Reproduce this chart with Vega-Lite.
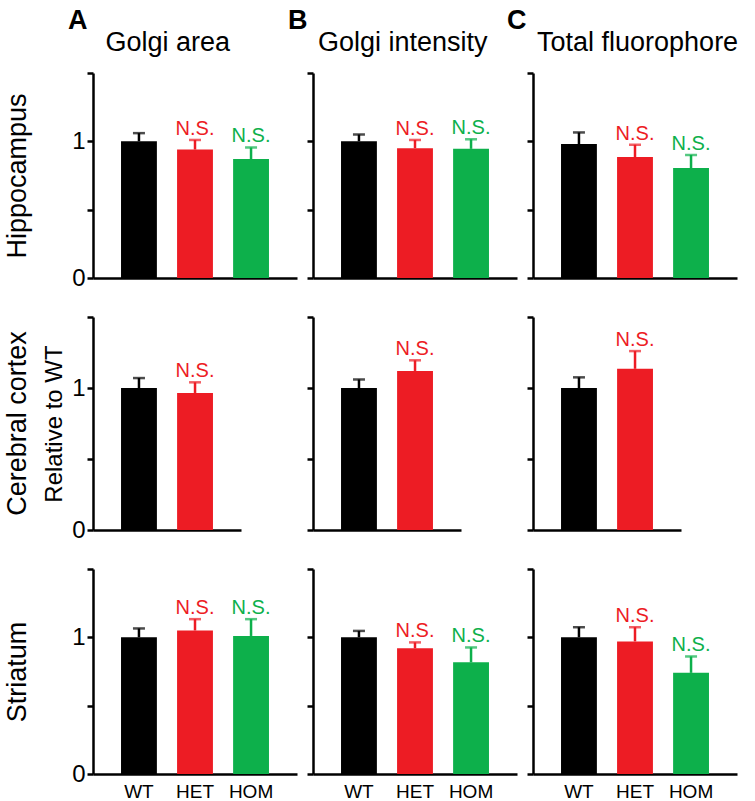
{
 "$schema": "https://vega.github.io/schema/vega-lite/v6.json",
 "padding": {"left": 3, "top": 6, "right": 0, "bottom": 0},
 "background": "white",
 "data": {"values": [
  {"region": "Hippocampus", "measure": "Golgi area", "group": "WT", "value": 1.0, "hi": 1.06, "label": ""},
  {"region": "Hippocampus", "measure": "Golgi area", "group": "HET", "value": 0.94, "hi": 1.01, "label": "N.S."},
  {"region": "Hippocampus", "measure": "Golgi area", "group": "HOM", "value": 0.87, "hi": 0.955, "label": "N.S."},
  {"region": "Hippocampus", "measure": "Golgi intensity", "group": "WT", "value": 1.0, "hi": 1.05, "label": ""},
  {"region": "Hippocampus", "measure": "Golgi intensity", "group": "HET", "value": 0.95, "hi": 1.01, "label": "N.S."},
  {"region": "Hippocampus", "measure": "Golgi intensity", "group": "HOM", "value": 0.945, "hi": 1.015, "label": "N.S."},
  {"region": "Hippocampus", "measure": "Total fluorophore", "group": "WT", "value": 0.98, "hi": 1.065, "label": ""},
  {"region": "Hippocampus", "measure": "Total fluorophore", "group": "HET", "value": 0.885, "hi": 0.975, "label": "N.S."},
  {"region": "Hippocampus", "measure": "Total fluorophore", "group": "HOM", "value": 0.805, "hi": 0.9, "label": "N.S."},
  {"region": "Cerebral cortex", "measure": "Golgi area", "group": "WT", "value": 1.0, "hi": 1.07, "label": ""},
  {"region": "Cerebral cortex", "measure": "Golgi area", "group": "HET", "value": 0.965, "hi": 1.04, "label": "N.S."},
  {"region": "Cerebral cortex", "measure": "Golgi intensity", "group": "WT", "value": 1.0, "hi": 1.06, "label": ""},
  {"region": "Cerebral cortex", "measure": "Golgi intensity", "group": "HET", "value": 1.12, "hi": 1.195, "label": "N.S."},
  {"region": "Cerebral cortex", "measure": "Total fluorophore", "group": "WT", "value": 1.0, "hi": 1.075, "label": ""},
  {"region": "Cerebral cortex", "measure": "Total fluorophore", "group": "HET", "value": 1.135, "hi": 1.26, "label": "N.S."},
  {"region": "Striatum", "measure": "Golgi area", "group": "WT", "value": 1.0, "hi": 1.065, "label": ""},
  {"region": "Striatum", "measure": "Golgi area", "group": "HET", "value": 1.05, "hi": 1.133, "label": "N.S."},
  {"region": "Striatum", "measure": "Golgi area", "group": "HOM", "value": 1.01, "hi": 1.133, "label": "N.S."},
  {"region": "Striatum", "measure": "Golgi intensity", "group": "WT", "value": 1.0, "hi": 1.047, "label": ""},
  {"region": "Striatum", "measure": "Golgi intensity", "group": "HET", "value": 0.92, "hi": 0.963, "label": "N.S."},
  {"region": "Striatum", "measure": "Golgi intensity", "group": "HOM", "value": 0.817, "hi": 0.926, "label": "N.S."},
  {"region": "Striatum", "measure": "Total fluorophore", "group": "WT", "value": 1.0, "hi": 1.074, "label": ""},
  {"region": "Striatum", "measure": "Total fluorophore", "group": "HET", "value": 0.97, "hi": 1.074, "label": "N.S."},
  {"region": "Striatum", "measure": "Total fluorophore", "group": "HOM", "value": 0.74, "hi": 0.86, "label": "N.S."}
 ]},
 "config": {
  "view": {"stroke": null},
  "font": "Liberation Sans",
  "scale": {"bandPaddingInner": 0.36, "bandPaddingOuter": 0.5},
  "axis": {"grid": false, "domainColor": "#000000", "domainWidth": 2.5, "tickColor": "#000000", "tickWidth": 2.5, "labelColor": "#000000", "labelFont": "Liberation Sans", "titleFont": "Liberation Sans", "titleColor": "#000000", "titleFontWeight": "normal"},
  "axisX": {"ticks": false, "labelFontSize": 19, "labelPadding": 8, "labelAngle": 0},
  "axisY": {"tickSize": 6, "labelFontSize": 24, "labelPadding": 2, "titleFontSize": 27},
  "title": {"font": "Liberation Sans", "color": "#000000", "subtitleFont": "Liberation Sans", "subtitleColor": "#000000"}
 },
 "bounds": "flush",
 "columns": 3,
 "spacing": {"row": 39, "column": 16},
 "concat": [
  {
   "width": 204, "height": 205,
   "title": {"text": "A", "subtitle": "\u200b\u00a0\u00a0\u00a0\u00a0\u00a0Golgi area", "anchor": "start", "frame": "group", "dx": -25, "fontSize": 27, "fontWeight": "bold", "subtitleFontSize": 27, "subtitlePadding": -5, "offset": 15},
   "transform": [{"filter": "datum.region === 'Hippocampus' && datum.measure === 'Golgi area'"}],
   "encoding": {
    "x": {"field": "group", "type": "nominal", "sort": null, "scale": {"domain": ["WT", "HET", "HOM"]}, "axis": {"labels": false, "title": null}},
    "y": {"field": "value", "type": "quantitative", "scale": {"domain": [0, 1.5], "nice": false}, "axis": {"values": [0, 0.5, 1, 1.5], "labelExpr": "datum.value == 0 ? '0' : datum.value == 1 ? '1' : ''", "title": "Hippocampus", "titlePadding": 40}},
    "color": {"field": "group", "type": "nominal", "scale": {"domain": ["WT", "HET", "HOM"], "range": ["#000000", "#ED1C24", "#0DB04B"]}, "legend": null}
   },
   "layer": [
    {"mark": {"type": "bar"}},
    {"mark": {"type": "rule", "strokeWidth": 2.5}, "encoding": {"y2": {"field": "hi"}}},
    {"mark": {"type": "tick", "thickness": 2.5, "size": 12}, "encoding": {"y": {"field": "hi", "type": "quantitative"}}},
    {"mark": {"type": "text", "fontSize": 20, "baseline": "alphabetic", "dy": -5}, "encoding": {"y": {"field": "hi", "type": "quantitative"}, "text": {"field": "label"}}}
   ]
  },
  {
   "width": 204, "height": 205,
   "title": {"text": "B", "subtitle": "\u200b\u00a0\u00a0\u00a0\u00a0Golgi intensity", "anchor": "start", "frame": "group", "dx": -25, "fontSize": 27, "fontWeight": "bold", "subtitleFontSize": 27, "subtitlePadding": -5, "offset": 15},
   "transform": [{"filter": "datum.region === 'Hippocampus' && datum.measure === 'Golgi intensity'"}],
   "encoding": {
    "x": {"field": "group", "type": "nominal", "sort": null, "scale": {"domain": ["WT", "HET", "HOM"]}, "axis": {"labels": false, "title": null}},
    "y": {"field": "value", "type": "quantitative", "scale": {"domain": [0, 1.5], "nice": false}, "axis": {"values": [0, 0.5, 1, 1.5], "labels": false, "title": null}},
    "color": {"field": "group", "type": "nominal", "scale": {"domain": ["WT", "HET", "HOM"], "range": ["#000000", "#ED1C24", "#0DB04B"]}, "legend": null}
   },
   "layer": [
    {"mark": {"type": "bar"}},
    {"mark": {"type": "rule", "strokeWidth": 2.5}, "encoding": {"y2": {"field": "hi"}}},
    {"mark": {"type": "tick", "thickness": 2.5, "size": 12}, "encoding": {"y": {"field": "hi", "type": "quantitative"}}},
    {"mark": {"type": "text", "fontSize": 20, "baseline": "alphabetic", "dy": -5}, "encoding": {"y": {"field": "hi", "type": "quantitative"}, "text": {"field": "label"}}}
   ]
  },
  {
   "width": 204, "height": 205,
   "title": {"text": "C", "subtitle": "\u200b\u00a0\u00a0\u00a0\u00a0Total fluorophore", "anchor": "start", "frame": "group", "dx": -26, "fontSize": 27, "fontWeight": "bold", "subtitleFontSize": 27, "subtitlePadding": -5, "offset": 15},
   "transform": [{"filter": "datum.region === 'Hippocampus' && datum.measure === 'Total fluorophore'"}],
   "encoding": {
    "x": {"field": "group", "type": "nominal", "sort": null, "scale": {"domain": ["WT", "HET", "HOM"]}, "axis": {"labels": false, "title": null}},
    "y": {"field": "value", "type": "quantitative", "scale": {"domain": [0, 1.5], "nice": false}, "axis": {"values": [0, 0.5, 1, 1.5], "labels": false, "title": null}},
    "color": {"field": "group", "type": "nominal", "scale": {"domain": ["WT", "HET", "HOM"], "range": ["#000000", "#ED1C24", "#0DB04B"]}, "legend": null}
   },
   "layer": [
    {"mark": {"type": "bar"}},
    {"mark": {"type": "rule", "strokeWidth": 2.5}, "encoding": {"y2": {"field": "hi"}}},
    {"mark": {"type": "tick", "thickness": 2.5, "size": 12}, "encoding": {"y": {"field": "hi", "type": "quantitative"}}},
    {"mark": {"type": "text", "fontSize": 20, "baseline": "alphabetic", "dy": -5}, "encoding": {"y": {"field": "hi", "type": "quantitative"}, "text": {"field": "label"}}}
   ]
  },
  {
   "width": 148, "height": 213,
   "title": {"text": "Cerebral cortex", "orient": "left", "anchor": "middle", "frame": "group", "fontSize": 27, "fontWeight": "normal", "offset": 11},
   "transform": [{"filter": "datum.region === 'Cerebral cortex' && datum.measure === 'Golgi area'"}],
   "encoding": {
    "x": {"field": "group", "type": "nominal", "sort": null, "scale": {"domain": ["WT", "HET"]}, "axis": {"labels": false, "title": null}},
    "y": {"field": "value", "type": "quantitative", "scale": {"domain": [0, 1.5], "nice": false}, "axis": {"values": [0, 0.5, 1, 1.5], "labelExpr": "datum.value == 0 ? '0' : datum.value == 1 ? '1' : ''", "title": "Relative to WT", "titleFontSize": 24, "titlePadding": 5}},
    "color": {"field": "group", "type": "nominal", "scale": {"domain": ["WT", "HET", "HOM"], "range": ["#000000", "#ED1C24", "#0DB04B"]}, "legend": null}
   },
   "layer": [
    {"mark": {"type": "bar"}},
    {"mark": {"type": "rule", "strokeWidth": 2.5}, "encoding": {"y2": {"field": "hi"}}},
    {"mark": {"type": "tick", "thickness": 2.5, "size": 12}, "encoding": {"y": {"field": "hi", "type": "quantitative"}}},
    {"mark": {"type": "text", "fontSize": 20, "baseline": "alphabetic", "dy": -5}, "encoding": {"y": {"field": "hi", "type": "quantitative"}, "text": {"field": "label"}}}
   ]
  },
  {
   "width": 148, "height": 213,
   "transform": [{"filter": "datum.region === 'Cerebral cortex' && datum.measure === 'Golgi intensity'"}],
   "encoding": {
    "x": {"field": "group", "type": "nominal", "sort": null, "scale": {"domain": ["WT", "HET"]}, "axis": {"labels": false, "title": null}},
    "y": {"field": "value", "type": "quantitative", "scale": {"domain": [0, 1.5], "nice": false}, "axis": {"values": [0, 0.5, 1, 1.5], "labels": false, "title": null}},
    "color": {"field": "group", "type": "nominal", "scale": {"domain": ["WT", "HET", "HOM"], "range": ["#000000", "#ED1C24", "#0DB04B"]}, "legend": null}
   },
   "layer": [
    {"mark": {"type": "bar"}},
    {"mark": {"type": "rule", "strokeWidth": 2.5}, "encoding": {"y2": {"field": "hi"}}},
    {"mark": {"type": "tick", "thickness": 2.5, "size": 12}, "encoding": {"y": {"field": "hi", "type": "quantitative"}}},
    {"mark": {"type": "text", "fontSize": 20, "baseline": "alphabetic", "dy": -5}, "encoding": {"y": {"field": "hi", "type": "quantitative"}, "text": {"field": "label"}}}
   ]
  },
  {
   "width": 148, "height": 213,
   "transform": [{"filter": "datum.region === 'Cerebral cortex' && datum.measure === 'Total fluorophore'"}],
   "encoding": {
    "x": {"field": "group", "type": "nominal", "sort": null, "scale": {"domain": ["WT", "HET"]}, "axis": {"labels": false, "title": null}},
    "y": {"field": "value", "type": "quantitative", "scale": {"domain": [0, 1.5], "nice": false}, "axis": {"values": [0, 0.5, 1, 1.5], "labels": false, "title": null}},
    "color": {"field": "group", "type": "nominal", "scale": {"domain": ["WT", "HET", "HOM"], "range": ["#000000", "#ED1C24", "#0DB04B"]}, "legend": null}
   },
   "layer": [
    {"mark": {"type": "bar"}},
    {"mark": {"type": "rule", "strokeWidth": 2.5}, "encoding": {"y2": {"field": "hi"}}},
    {"mark": {"type": "tick", "thickness": 2.5, "size": 12}, "encoding": {"y": {"field": "hi", "type": "quantitative"}}},
    {"mark": {"type": "text", "fontSize": 20, "baseline": "alphabetic", "dy": -5}, "encoding": {"y": {"field": "hi", "type": "quantitative"}, "text": {"field": "label"}}}
   ]
  },
  {
   "width": 204, "height": 205,
   "transform": [{"filter": "datum.region === 'Striatum' && datum.measure === 'Golgi area'"}],
   "encoding": {
    "x": {"field": "group", "type": "nominal", "sort": null, "scale": {"domain": ["WT", "HET", "HOM"]}, "axis": {"title": null}},
    "y": {"field": "value", "type": "quantitative", "scale": {"domain": [0, 1.5], "nice": false}, "axis": {"values": [0, 0.5, 1, 1.5], "labelExpr": "datum.value == 0 ? '0' : datum.value == 1 ? '1' : ''", "title": "Striatum", "titlePadding": 40}},
    "color": {"field": "group", "type": "nominal", "scale": {"domain": ["WT", "HET", "HOM"], "range": ["#000000", "#ED1C24", "#0DB04B"]}, "legend": null}
   },
   "layer": [
    {"mark": {"type": "bar"}},
    {"mark": {"type": "rule", "strokeWidth": 2.5}, "encoding": {"y2": {"field": "hi"}}},
    {"mark": {"type": "tick", "thickness": 2.5, "size": 12}, "encoding": {"y": {"field": "hi", "type": "quantitative"}}},
    {"mark": {"type": "text", "fontSize": 20, "baseline": "alphabetic", "dy": -5}, "encoding": {"y": {"field": "hi", "type": "quantitative"}, "text": {"field": "label"}}}
   ]
  },
  {
   "width": 204, "height": 205,
   "transform": [{"filter": "datum.region === 'Striatum' && datum.measure === 'Golgi intensity'"}],
   "encoding": {
    "x": {"field": "group", "type": "nominal", "sort": null, "scale": {"domain": ["WT", "HET", "HOM"]}, "axis": {"title": null}},
    "y": {"field": "value", "type": "quantitative", "scale": {"domain": [0, 1.5], "nice": false}, "axis": {"values": [0, 0.5, 1, 1.5], "labels": false, "title": null}},
    "color": {"field": "group", "type": "nominal", "scale": {"domain": ["WT", "HET", "HOM"], "range": ["#000000", "#ED1C24", "#0DB04B"]}, "legend": null}
   },
   "layer": [
    {"mark": {"type": "bar"}},
    {"mark": {"type": "rule", "strokeWidth": 2.5}, "encoding": {"y2": {"field": "hi"}}},
    {"mark": {"type": "tick", "thickness": 2.5, "size": 12}, "encoding": {"y": {"field": "hi", "type": "quantitative"}}},
    {"mark": {"type": "text", "fontSize": 20, "baseline": "alphabetic", "dy": -5}, "encoding": {"y": {"field": "hi", "type": "quantitative"}, "text": {"field": "label"}}}
   ]
  },
  {
   "width": 204, "height": 205,
   "transform": [{"filter": "datum.region === 'Striatum' && datum.measure === 'Total fluorophore'"}],
   "encoding": {
    "x": {"field": "group", "type": "nominal", "sort": null, "scale": {"domain": ["WT", "HET", "HOM"]}, "axis": {"title": null}},
    "y": {"field": "value", "type": "quantitative", "scale": {"domain": [0, 1.5], "nice": false}, "axis": {"values": [0, 0.5, 1, 1.5], "labels": false, "title": null}},
    "color": {"field": "group", "type": "nominal", "scale": {"domain": ["WT", "HET", "HOM"], "range": ["#000000", "#ED1C24", "#0DB04B"]}, "legend": null}
   },
   "layer": [
    {"mark": {"type": "bar"}},
    {"mark": {"type": "rule", "strokeWidth": 2.5}, "encoding": {"y2": {"field": "hi"}}},
    {"mark": {"type": "tick", "thickness": 2.5, "size": 12}, "encoding": {"y": {"field": "hi", "type": "quantitative"}}},
    {"mark": {"type": "text", "fontSize": 20, "baseline": "alphabetic", "dy": -5}, "encoding": {"y": {"field": "hi", "type": "quantitative"}, "text": {"field": "label"}}}
   ]
  }
 ]
}
